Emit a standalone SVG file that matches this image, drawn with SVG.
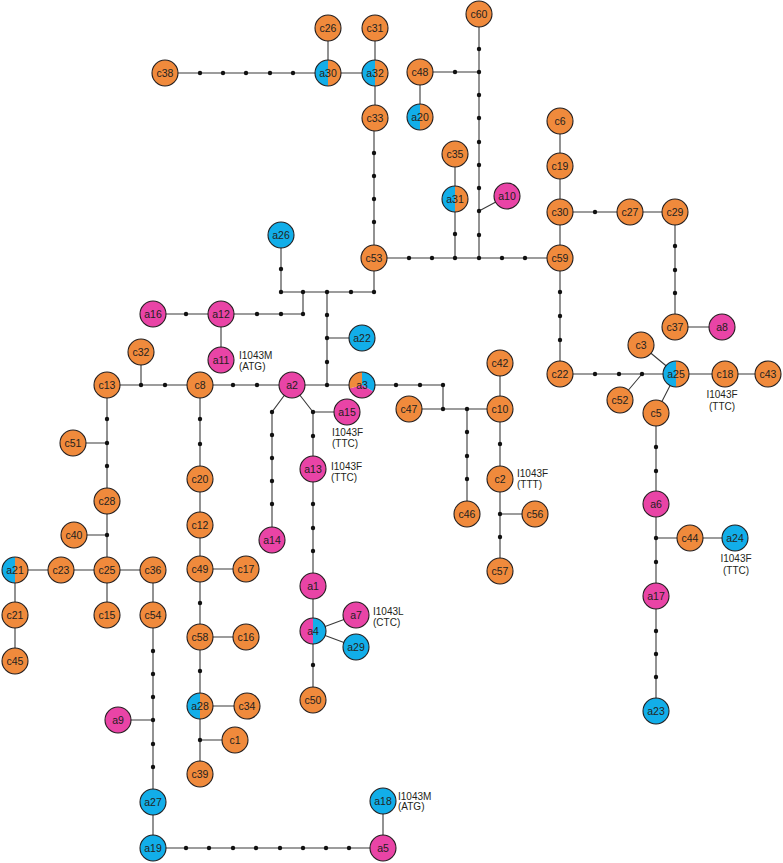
<svg xmlns="http://www.w3.org/2000/svg" width="783" height="863" viewBox="0 0 783 863">
<style>
.n{stroke:#231F20;stroke-width:1.1}
.o{fill:#F08A3C}.p{fill:#E944A6}.b{fill:#12AEE9}
.t{font-family:"Liberation Sans",Arial,sans-serif;font-size:10.5px;fill:#231F20;text-anchor:middle;dominant-baseline:central}
.l{font-family:"Liberation Sans",Arial,sans-serif;font-size:10px;fill:#231F20}
.e{stroke:#3a3a3a;stroke-width:1.1;fill:none}
.d{fill:#111}
</style>
<rect width="783" height="863" fill="#fff"/>
<g id="connectors" class="e">
<path d="M165,73H375M328,28V73M375,28V118M374,118V292M420,72H479M420,72V117M479,14V258M507,196L479,211M455,154V258M374,258H560M560,121V374M560,212H675V327H722M560,374H768M620,400L642,374M641,345L676,374M656,413L676,374M656,413V711M656,538H735M281,235V292H374M303,292V314M153,314H303M221,314V360M327,292V385M327,338H362M107,385H443V409M141,352V385M409,409H500M467,409V514M500,363V571M500,514H535M292,385L272,412V540M292,385L313,412H347M313,412V700M313,631L356,615M313,631L356,647M107,385V615M107,443H73M107,535H74M15,570H153M15,570V661M153,570V848H383V801M118,720H153M200,385V774M200,569H246M200,637H246M200,706H247M200,740H235"/>
</g>
<g id="dots" class="d">
<circle cx="200" cy="73" r="2.2"/><circle cx="223" cy="73" r="2.2"/><circle cx="246" cy="73" r="2.2"/><circle cx="270" cy="73" r="2.2"/><circle cx="293" cy="73" r="2.2"/>
<circle cx="374" cy="153" r="2.2"/><circle cx="374" cy="176" r="2.2"/><circle cx="374" cy="199" r="2.2"/><circle cx="374" cy="222" r="2.2"/>
<circle cx="455" cy="72" r="2.2"/>
<circle cx="479" cy="49" r="2.2"/><circle cx="479" cy="72" r="2.2"/><circle cx="479" cy="95" r="2.2"/><circle cx="479" cy="118" r="2.2"/><circle cx="479" cy="142" r="2.2"/><circle cx="479" cy="165" r="2.2"/><circle cx="479" cy="188" r="2.2"/><circle cx="479" cy="211" r="2.2"/><circle cx="479" cy="235" r="2.2"/><circle cx="479" cy="258" r="2.2"/>
<circle cx="455" cy="234" r="2.2"/><circle cx="455" cy="258" r="2.2"/>
<circle cx="409" cy="258" r="2.2"/><circle cx="432" cy="258" r="2.2"/><circle cx="502" cy="258" r="2.2"/><circle cx="525" cy="258" r="2.2"/>
<circle cx="595" cy="212" r="2.2"/>
<circle cx="675" cy="246" r="2.2"/><circle cx="675" cy="270" r="2.2"/><circle cx="675" cy="293" r="2.2"/>
<circle cx="560" cy="292" r="2.2"/><circle cx="560" cy="316" r="2.2"/><circle cx="560" cy="340" r="2.2"/>
<circle cx="595" cy="374" r="2.2"/><circle cx="619" cy="374" r="2.2"/><circle cx="642" cy="374" r="2.2"/>
<circle cx="656" cy="447" r="2.2"/><circle cx="656" cy="471" r="2.2"/><circle cx="656" cy="538" r="2.2"/><circle cx="656" cy="562" r="2.2"/><circle cx="656" cy="631" r="2.2"/><circle cx="656" cy="654" r="2.2"/><circle cx="656" cy="677" r="2.2"/>
<circle cx="281" cy="269" r="2.2"/><circle cx="281" cy="292" r="2.2"/><circle cx="303" cy="292" r="2.2"/><circle cx="327" cy="292" r="2.2"/><circle cx="351" cy="292" r="2.2"/><circle cx="374" cy="292" r="2.2"/>
<circle cx="186" cy="314" r="2.2"/><circle cx="257" cy="314" r="2.2"/><circle cx="281" cy="314" r="2.2"/><circle cx="303" cy="314" r="2.2"/>
<circle cx="327" cy="315" r="2.2"/><circle cx="327" cy="338" r="2.2"/><circle cx="327" cy="362" r="2.2"/><circle cx="327" cy="385" r="2.2"/>
<circle cx="141" cy="385" r="2.2"/><circle cx="165" cy="385" r="2.2"/><circle cx="233" cy="385" r="2.2"/><circle cx="257" cy="385" r="2.2"/>
<circle cx="396" cy="385" r="2.2"/><circle cx="420" cy="385" r="2.2"/><circle cx="443" cy="385" r="2.2"/><circle cx="443" cy="409" r="2.2"/><circle cx="467" cy="409" r="2.2"/>
<circle cx="467" cy="432" r="2.2"/><circle cx="467" cy="456" r="2.2"/><circle cx="467" cy="479" r="2.2"/>
<circle cx="500" cy="444" r="2.2"/><circle cx="500" cy="514" r="2.2"/><circle cx="500" cy="537" r="2.2"/>
<circle cx="272" cy="412" r="2.2"/><circle cx="313" cy="412" r="2.2"/>
<circle cx="272" cy="435" r="2.2"/><circle cx="272" cy="458" r="2.2"/><circle cx="272" cy="481" r="2.2"/><circle cx="272" cy="504" r="2.2"/>
<circle cx="313" cy="436" r="2.2"/><circle cx="313" cy="504" r="2.2"/><circle cx="313" cy="528" r="2.2"/><circle cx="313" cy="551" r="2.2"/><circle cx="313" cy="665" r="2.2"/>
<circle cx="107" cy="419" r="2.2"/><circle cx="107" cy="443" r="2.2"/><circle cx="107" cy="466" r="2.2"/><circle cx="107" cy="535" r="2.2"/>
<circle cx="200" cy="419" r="2.2"/><circle cx="200" cy="444" r="2.2"/><circle cx="200" cy="603" r="2.2"/><circle cx="200" cy="671" r="2.2"/><circle cx="200" cy="740" r="2.2"/>
<circle cx="153" cy="651" r="2.2"/><circle cx="153" cy="674" r="2.2"/><circle cx="153" cy="697" r="2.2"/><circle cx="153" cy="720" r="2.2"/><circle cx="153" cy="744" r="2.2"/><circle cx="153" cy="767" r="2.2"/>
<circle cx="186" cy="848" r="2.2"/><circle cx="209" cy="848" r="2.2"/><circle cx="233" cy="848" r="2.2"/><circle cx="256" cy="848" r="2.2"/><circle cx="280" cy="848" r="2.2"/><circle cx="303" cy="848" r="2.2"/><circle cx="326" cy="848" r="2.2"/><circle cx="349" cy="848" r="2.2"/>
</g>
<!-- nodes -->
<g id="c38"><circle class="n o" cx="165" cy="73" r="13"/><text class="t" x="165" y="73">c38</text></g>
<g id="c26"><circle class="n o" cx="328" cy="28" r="13"/><text class="t" x="328" y="28">c26</text></g>
<g id="a30"><path class="b" d="M328,60A13,13 0 0 0 328,86Z"/><path class="o" d="M328,60A13,13 0 0 1 328,86Z"/><circle class="n" fill="none" cx="328" cy="73" r="13"/><text class="t" x="328" y="73">a30</text></g>
<g id="c31"><circle class="n o" cx="375" cy="28" r="13"/><text class="t" x="375" y="28">c31</text></g>
<g id="a32"><path class="b" d="M375,60A13,13 0 0 0 375,86Z"/><path class="o" d="M375,60A13,13 0 0 1 375,86Z"/><circle class="n" fill="none" cx="375" cy="73" r="13"/><text class="t" x="375" y="73">a32</text></g>
<g id="c33"><circle class="n o" cx="375" cy="118" r="13"/><text class="t" x="375" y="118">c33</text></g>
<g id="c48"><circle class="n o" cx="420" cy="72" r="13"/><text class="t" x="420" y="72">c48</text></g>
<g id="a20"><path class="b" d="M420,104A13,13 0 0 0 420,130Z"/><path class="o" d="M420,104A13,13 0 0 1 420,130Z"/><circle class="n" fill="none" cx="420" cy="117" r="13"/><text class="t" x="420" y="117">a20</text></g>
<g id="c60"><circle class="n o" cx="479" cy="14" r="13"/><text class="t" x="479" y="14">c60</text></g>
<g id="c35"><circle class="n o" cx="455" cy="154" r="13"/><text class="t" x="455" y="154">c35</text></g>
<g id="a31"><path class="b" d="M455,186A13,13 0 0 0 455,212Z"/><path class="o" d="M455,186A13,13 0 0 1 455,212Z"/><circle class="n" fill="none" cx="455" cy="199" r="13"/><text class="t" x="455" y="199">a31</text></g>
<g id="a10"><circle class="n p" cx="507" cy="196" r="13"/><text class="t" x="507" y="196">a10</text></g>
<g id="c6"><circle class="n o" cx="560" cy="121" r="13"/><text class="t" x="560" y="121">c6</text></g>
<g id="c19"><circle class="n o" cx="560" cy="166" r="13"/><text class="t" x="560" y="166">c19</text></g>
<g id="c30"><circle class="n o" cx="560" cy="212" r="13"/><text class="t" x="560" y="212">c30</text></g>
<g id="c27"><circle class="n o" cx="630" cy="212" r="13"/><text class="t" x="630" y="212">c27</text></g>
<g id="c29"><circle class="n o" cx="675" cy="212" r="13"/><text class="t" x="675" y="212">c29</text></g>
<g id="c59"><circle class="n o" cx="560" cy="258" r="13"/><text class="t" x="560" y="258">c59</text></g>
<g id="c53"><circle class="n o" cx="374" cy="258" r="13"/><text class="t" x="374" y="258">c53</text></g>
<g id="a26"><circle class="n b" cx="281" cy="235" r="13"/><text class="t" x="281" y="235">a26</text></g>
<g id="c37"><circle class="n o" cx="675" cy="327" r="13"/><text class="t" x="675" y="327">c37</text></g>
<g id="a8"><circle class="n p" cx="722" cy="327" r="13"/><text class="t" x="722" y="327">a8</text></g>
<g id="c22"><circle class="n o" cx="560" cy="374" r="13"/><text class="t" x="560" y="374">c22</text></g>
<g id="c3"><circle class="n o" cx="641" cy="345" r="13"/><text class="t" x="641" y="345">c3</text></g>
<g id="c52"><circle class="n o" cx="620" cy="400" r="13"/><text class="t" x="620" y="400">c52</text></g>
<g id="c5"><circle class="n o" cx="656" cy="413" r="13"/><text class="t" x="656" y="413">c5</text></g>
<g id="a25"><path class="b" d="M676,361A13,13 0 0 0 676,387Z"/><path class="o" d="M676,361A13,13 0 0 1 676,387Z"/><circle class="n" fill="none" cx="676" cy="374" r="13"/><text class="t" x="676" y="374">a25</text></g>
<g id="c18"><circle class="n o" cx="725" cy="374" r="13"/><text class="t" x="725" y="374">c18</text><text class="l" x="722" y="398" text-anchor="middle">I1043F</text><text class="l" x="722" y="410" text-anchor="middle">(TTC)</text></g>
<g id="c43"><circle class="n o" cx="768" cy="374" r="13"/><text class="t" x="768" y="374">c43</text></g>
<g id="a16"><circle class="n p" cx="153" cy="314" r="13"/><text class="t" x="153" y="314">a16</text></g>
<g id="a12"><circle class="n p" cx="221" cy="314" r="13"/><text class="t" x="221" y="314">a12</text></g>
<g id="a11"><circle class="n p" cx="221" cy="360" r="13"/><text class="t" x="221" y="360">a11</text><text class="l" x="239" y="359">I1043M</text><text class="l" x="239" y="370">(ATG)</text></g>
<g id="a22"><circle class="n b" cx="362" cy="338" r="13"/><text class="t" x="362" y="338">a22</text></g>
<g id="c32"><circle class="n o" cx="141" cy="352" r="13"/><text class="t" x="141" y="352">c32</text></g>
<g id="c13"><circle class="n o" cx="107" cy="385" r="13"/><text class="t" x="107" y="385">c13</text></g>
<g id="c8"><circle class="n o" cx="200" cy="385" r="13"/><text class="t" x="200" y="385">c8</text></g>
<g id="a2"><circle class="n p" cx="292" cy="385" r="13"/><text class="t" x="292" y="385">a2</text></g>
<g id="a3"><path class="b" d="M362,385V372A13,13 0 0 1 373.26,391.5Z"/><path class="p" d="M362,385L373.26,391.5A13,13 0 0 1 349.4,388.4Z"/><path class="o" d="M362,385L349.4,388.4A13,13 0 0 1 362,372Z"/><circle class="n" fill="none" cx="362" cy="385" r="13"/><text class="t" x="362" y="385">a3</text></g>
<g id="c42"><circle class="n o" cx="500" cy="363" r="13"/><text class="t" x="500" y="363">c42</text></g>
<g id="c47"><circle class="n o" cx="409" cy="409" r="13"/><text class="t" x="409" y="409">c47</text></g>
<g id="c10"><circle class="n o" cx="500" cy="409" r="13"/><text class="t" x="500" y="409">c10</text></g>
<g id="a15"><circle class="n p" cx="347" cy="412" r="13"/><text class="t" x="347" y="412">a15</text><text class="l" x="332" y="436">I1043F</text><text class="l" x="332" y="447">(TTC)</text></g>
<g id="a13"><circle class="n p" cx="313" cy="469" r="13"/><text class="t" x="313" y="469">a13</text><text class="l" x="331" y="470">I1043F</text><text class="l" x="331" y="481">(TTC)</text></g>
<g id="c2"><circle class="n o" cx="500" cy="479" r="13"/><text class="t" x="500" y="479">c2</text><text class="l" x="517" y="477">I1043F</text><text class="l" x="517" y="488">(TTT)</text></g>
<g id="c46"><circle class="n o" cx="467" cy="514" r="13"/><text class="t" x="467" y="514">c46</text></g>
<g id="c56"><circle class="n o" cx="535" cy="514" r="13"/><text class="t" x="535" y="514">c56</text></g>
<g id="c57"><circle class="n o" cx="500" cy="571" r="13"/><text class="t" x="500" y="571">c57</text></g>
<g id="a14"><circle class="n p" cx="272" cy="540" r="13"/><text class="t" x="272" y="540">a14</text></g>
<g id="a1"><circle class="n p" cx="313" cy="586" r="13"/><text class="t" x="313" y="586">a1</text></g>
<g id="a4"><path class="p" d="M313,618A13,13 0 0 0 313,644Z"/><path class="b" d="M313,618A13,13 0 0 1 313,644Z"/><circle class="n" fill="none" cx="313" cy="631" r="13"/><text class="t" x="313" y="631">a4</text></g>
<g id="a7"><circle class="n p" cx="356" cy="615" r="13"/><text class="t" x="356" y="615">a7</text><text class="l" x="373" y="615">I1043L</text><text class="l" x="373" y="626">(CTC)</text></g>
<g id="a29"><circle class="n b" cx="356" cy="647" r="13"/><text class="t" x="356" y="647">a29</text></g>
<g id="c50"><circle class="n o" cx="313" cy="700" r="13"/><text class="t" x="313" y="700">c50</text></g>
<g id="a6"><circle class="n p" cx="656" cy="504" r="13"/><text class="t" x="656" y="504">a6</text></g>
<g id="c44"><circle class="n o" cx="690" cy="538" r="13"/><text class="t" x="690" y="538">c44</text></g>
<g id="a24"><circle class="n b" cx="735" cy="538" r="13"/><text class="t" x="735" y="538">a24</text><text class="l" x="736" y="562" text-anchor="middle">I1043F</text><text class="l" x="736" y="574" text-anchor="middle">(TTC)</text></g>
<g id="a17"><circle class="n p" cx="656" cy="596" r="13"/><text class="t" x="656" y="596">a17</text></g>
<g id="a23"><circle class="n b" cx="656" cy="711" r="13"/><text class="t" x="656" y="711">a23</text></g>
<g id="c51"><circle class="n o" cx="73" cy="443" r="13"/><text class="t" x="73" y="443">c51</text></g>
<g id="c28"><circle class="n o" cx="107" cy="501" r="13"/><text class="t" x="107" y="501">c28</text></g>
<g id="c40"><circle class="n o" cx="74" cy="535" r="13"/><text class="t" x="74" y="535">c40</text></g>
<g id="a21"><path class="b" d="M15,557A13,13 0 0 0 15,583Z"/><path class="o" d="M15,557A13,13 0 0 1 15,583Z"/><circle class="n" fill="none" cx="15" cy="570" r="13"/><text class="t" x="15" y="570">a21</text></g>
<g id="c23"><circle class="n o" cx="61" cy="570" r="13"/><text class="t" x="61" y="570">c23</text></g>
<g id="c25"><circle class="n o" cx="107" cy="570" r="13"/><text class="t" x="107" y="570">c25</text></g>
<g id="c36"><circle class="n o" cx="153" cy="570" r="13"/><text class="t" x="153" y="570">c36</text></g>
<g id="c21"><circle class="n o" cx="15" cy="615" r="13"/><text class="t" x="15" y="615">c21</text></g>
<g id="c15"><circle class="n o" cx="107" cy="615" r="13"/><text class="t" x="107" y="615">c15</text></g>
<g id="c54"><circle class="n o" cx="153" cy="615" r="13"/><text class="t" x="153" y="615">c54</text></g>
<g id="c45"><circle class="n o" cx="15" cy="661" r="13"/><text class="t" x="15" y="661">c45</text></g>
<g id="c20"><circle class="n o" cx="200" cy="479" r="13"/><text class="t" x="200" y="479">c20</text></g>
<g id="c12"><circle class="n o" cx="200" cy="525" r="13"/><text class="t" x="200" y="525">c12</text></g>
<g id="c49"><circle class="n o" cx="200" cy="569" r="13"/><text class="t" x="200" y="569">c49</text></g>
<g id="c17"><circle class="n o" cx="246" cy="569" r="13"/><text class="t" x="246" y="569">c17</text></g>
<g id="c58"><circle class="n o" cx="200" cy="637" r="13"/><text class="t" x="200" y="637">c58</text></g>
<g id="c16"><circle class="n o" cx="246" cy="637" r="13"/><text class="t" x="246" y="637">c16</text></g>
<g id="a28"><path class="b" d="M200,693A13,13 0 0 0 200,719Z"/><path class="o" d="M200,693A13,13 0 0 1 200,719Z"/><circle class="n" fill="none" cx="200" cy="706" r="13"/><text class="t" x="200" y="706">a28</text></g>
<g id="c34"><circle class="n o" cx="247" cy="706" r="13"/><text class="t" x="247" y="706">c34</text></g>
<g id="c1"><circle class="n o" cx="235" cy="740" r="13"/><text class="t" x="235" y="740">c1</text></g>
<g id="c39"><circle class="n o" cx="200" cy="774" r="13"/><text class="t" x="200" y="774">c39</text></g>
<g id="a9"><circle class="n p" cx="118" cy="720" r="13"/><text class="t" x="118" y="720">a9</text></g>
<g id="a27"><circle class="n b" cx="153" cy="802" r="13"/><text class="t" x="153" y="802">a27</text></g>
<g id="a19"><circle class="n b" cx="153" cy="848" r="13"/><text class="t" x="153" y="848">a19</text></g>
<g id="a5"><circle class="n p" cx="383" cy="848" r="13"/><text class="t" x="383" y="848">a5</text></g>
<g id="a18"><circle class="n b" cx="383" cy="801" r="13"/><text class="t" x="383" y="801">a18</text><text class="l" x="398" y="800">I1043M</text><text class="l" x="398" y="810">(ATG)</text></g>
</svg>
